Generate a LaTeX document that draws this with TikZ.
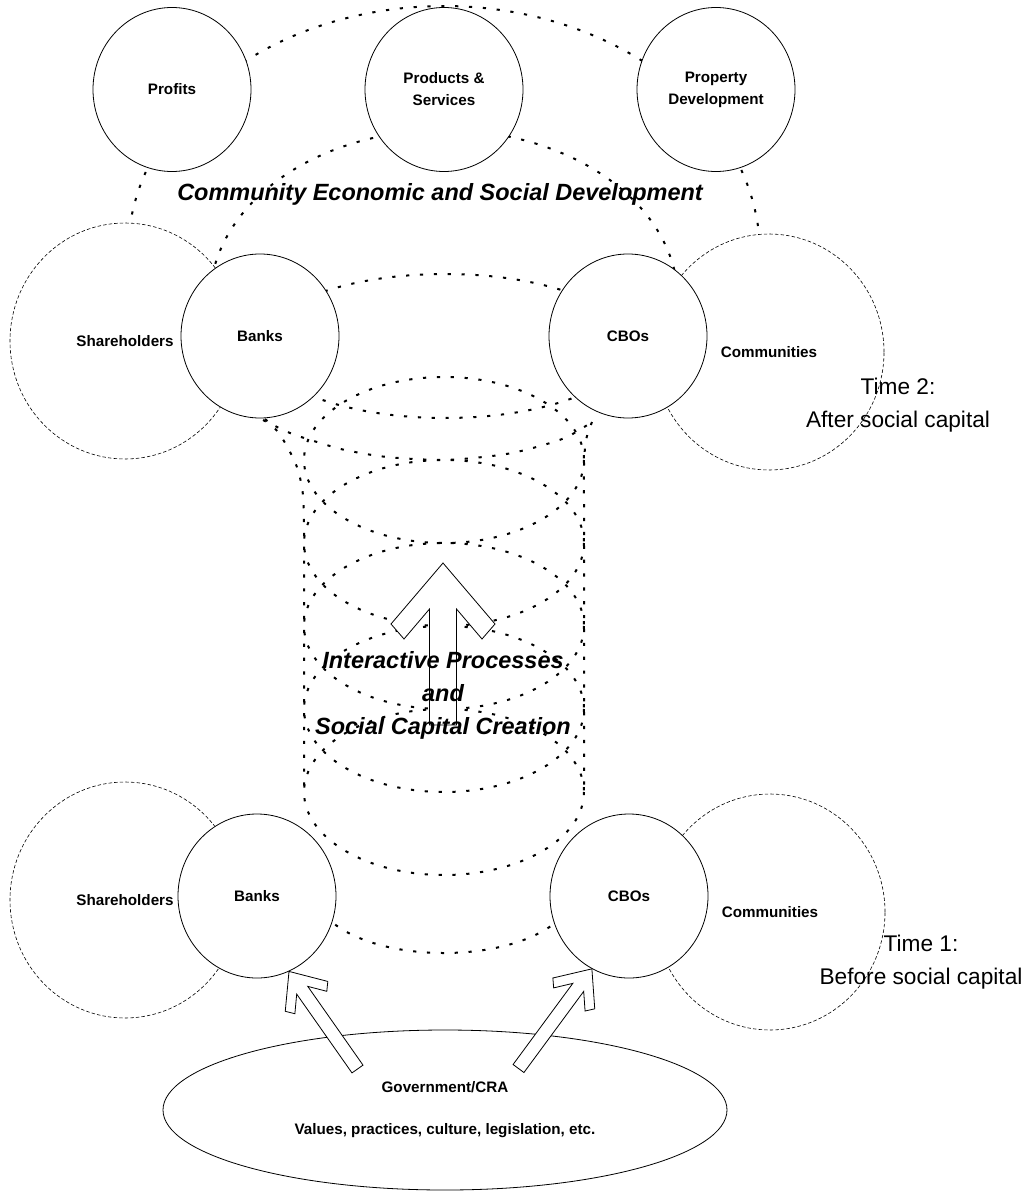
\documentclass[tikz,border=0pt]{standalone}
\usepackage{fontspec}
\setmainfont{Liberation Sans}
\usetikzlibrary{shapes.geometric,calc}

\tikzset{
  bubble/.style={draw, ellipse, fill=white, line width=0.6pt, inner sep=0pt,
    minimum width=118.5pt, minimum height=123pt, align=center,
    font=\bfseries\fontsize{11.4}{16.5}\selectfont},
  halo/.style={bubble, dash pattern=on 2.6pt off 1.6pt, line width=0.45pt,
    minimum width=172.5pt, minimum height=177pt},
  dotline/.style={line width=1.5pt, dash pattern=on 2.4pt off 8pt},
  blockarrow/.style={draw, fill=white, line width=0.6pt, line join=miter},
  headline/.style={font=\bfseries\itshape\fontsize{17.6}{24}\selectfont},
  timenote/.style={align=center, font=\fontsize{17}{24.75}\selectfont}
}

% hollow block arrow: tip, tail, head scale
\newcommand{\hollowarrow}[3]{%
  \draw[blockarrow] (#1)
    -- ($(#1)!{#3*45.75pt}!(#2)!{#3*39pt}!90:(#1)$)
    -- ($(#1)!{#3*57pt}!(#2)!{#3*29.25pt}!90:(#1)$)
    -- ($(#1)!{#3*34.5pt}!(#2)!{#3*10.125pt}!90:(#1)$)
    -- ($(#1)!1!(#2)!{#3*10.125pt}!90:(#1)$)
    -- ($(#1)!1!(#2)!{#3*10.125pt}!-90:(#1)$)
    -- ($(#1)!{#3*34.5pt}!(#2)!{#3*10.125pt}!-90:(#1)$)
    -- ($(#1)!{#3*57pt}!(#2)!{#3*29.25pt}!-90:(#1)$)
    -- ($(#1)!{#3*45.75pt}!(#2)!{#3*39pt}!-90:(#1)$)
    -- cycle;}

\begin{document}
\begin{tikzpicture}[x=0.75pt, y=-0.75pt]
\useasboundingbox (0,0) rectangle (1023,1202);

    % dotted links, drawn first so the circles cover them
    \draw[dotline] (132.8,297.1)
        arc[start angle=170, end angle=370, x radius=316, y radius=248];
    \draw[dotline] (224.1,358.1)
        arc[start angle=160, end angle=380, x radius=234, y radius=170];
    \draw[dotline] (445,346) ellipse [x radius=185, y radius=72];
    \draw[dotline] plot[smooth] coordinates {(263,420) (290,433) (317,442)
        (345,450) (387,457) (442,460) (483,457) (512,453) (540,446)
        (567,437) (592,422)};

    \draw[dotline] plot[smooth] coordinates {(265,419) (278,432) (289,450)
        (298,470) (303,495) (304,525)} -- (304,792);
    \draw[dotline] plot[smooth] coordinates {(592,422) (586,440) (584,465)
        (584,500)} -- (584,792);

    \foreach \k in {0,...,4}
        \draw[dotline] (444,{460+83*\k}) ellipse [x radius=140, y radius=83];

    \draw[dotline] (572,893)
        arc[start angle=0, end angle=180, x radius=128, y radius=60];

    % time 2
    \node[halo] (share2) at (125,341) {Shareholders};
    \node[halo] (comm2) at (769,352) {Communities};
    \node[bubble] (profits) at (172,89.5) {Profits};
    \node[bubble] (products) at (444,89.5) {Products \&\\Services};
    \node[bubble] (property) at (716,89.5) {Property\\Development};
    \node[bubble] (bank2) at (260,336) {Banks};
    \node[bubble] (cbo2) at (628,336) {CBOs};

    % time 1
    \node[halo] (share1) at (125,900) {Shareholders};
    \node[halo] (comm1) at (770,912) {Communities};
    \node[bubble] (bank1) at (257,896) {Banks};
    \node[bubble] (cbo1) at (629,896) {CBOs};

    \node[bubble, minimum width=423pt, minimum height=120pt,
        font=\bfseries\fontsize{11.4}{31.5}\selectfont] (gov) at (445,1110)
        {Government/CRA\\Values, practices, culture, legislation, etc.};

    % arrows
    \coordinate (risetip) at (443,563);
    \coordinate (risetail) at (443,725);
    \hollowarrow{risetip}{risetail}{1}

    \coordinate (banktip) at (bank1.-67);
    \coordinate (banktail) at ($(gov.center)+(-87.5,-41)$);
    \hollowarrow{banktip}{banktail}{0.5}

    \coordinate (cbotip) at (cbo1.-117);
    \coordinate (cbotail) at ($(gov.center)+(73.5,-41.5)$);
    \hollowarrow{cbotip}{cbotail}{0.5}

    % texts
    \node[headline, anchor=base] (theme) at (440,200)
        {Community Economic and Social Development};
    \foreach \txt [count=\i] in {Interactive Processes, and, Social Capital Creation}
        \node[headline, anchor=base] (process\i) at (443,{635+33*\i}) {\txt};

    \node[timenote] (time2) at (898,405) {Time 2:\\After social capital};
    \node[timenote] (time1) at (921,962) {Time 1:\\Before social capital};

\end{tikzpicture}
\end{document}
